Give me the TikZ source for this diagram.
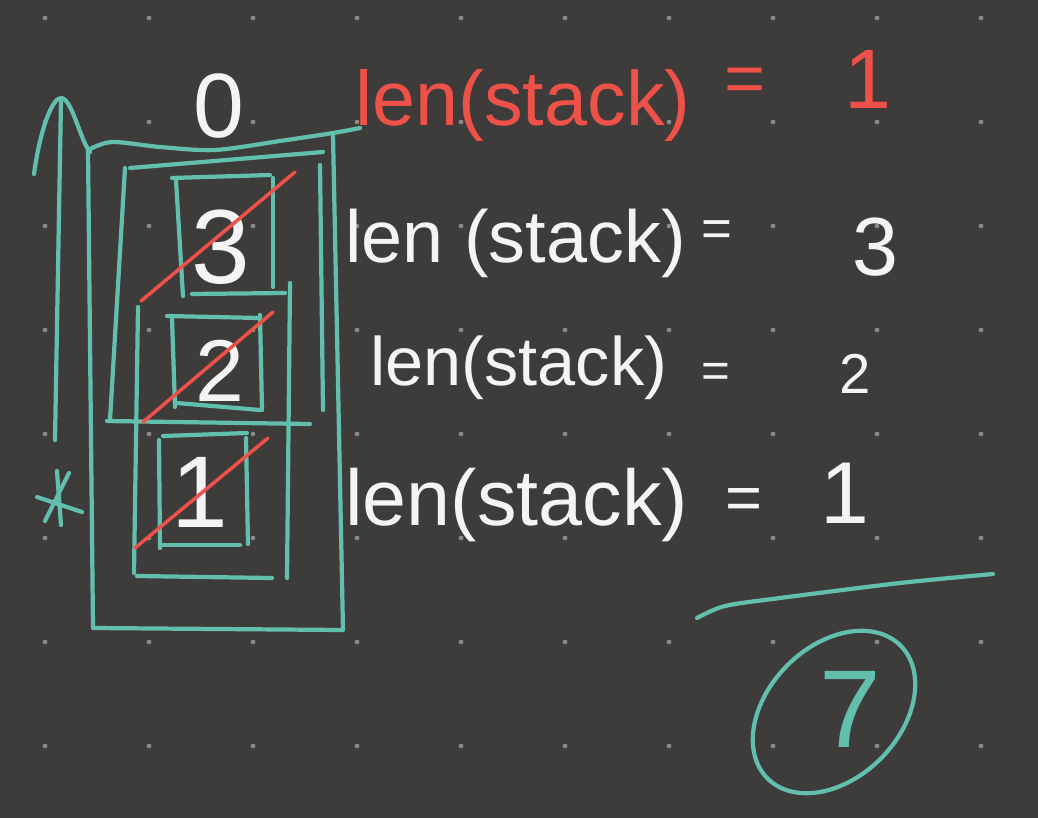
\documentclass[tikz,border=0pt]{standalone}
\usepackage{fontspec}
\setmainfont{Liberation Sans}
\definecolor{board}{HTML}{3E3B3B}
\definecolor{tealpen}{HTML}{62BFAE}
\definecolor{redpen}{HTML}{EE5148}
\definecolor{chalk}{HTML}{F4F4F4}
\definecolor{dotgrey}{HTML}{8E8B8B}
\newcommand{\penfont}[1]{\fontsize{#1}{#1}\selectfont}
\begin{document}
\begin{tikzpicture}[
            x=0.02cm, y=-0.02cm,
            pen/.style={draw=tealpen, line width=2.4pt, line cap=round, line join=round},
            strike/.style={draw=redpen, line width=2pt, line cap=round},
            word/.style={inner sep=0pt, anchor=base west},
            digit/.style={inner sep=0pt, anchor=base}
        ]
        \fill[board] (0,0) rectangle (1038,818);
        \useasboundingbox (0,0) rectangle (1038,818);
        \foreach \gx in {45,149,...,981}
            \foreach \gy in {18,122,...,746}
                \fill[dotgrey] (\gx,\gy) circle [radius=1.3pt];

        \draw[pen] (55,440) -- (61,100);
        \draw[pen] (34,174) .. controls (40,130) and (52,98) .. (61,98)
            .. controls (72,98) and (80,140) .. (90,152);
        \draw[pen] plot[smooth] coordinates {(88,150) (112,142) (160,147) (215,150) (280,141) (333,133) (360,128)};
        \draw[pen] (88,150) -- (93,628) -- (343,630) -- (333,135);

        \draw[pen] (130,168) -- (323,152);
        \draw[pen] (125,168) -- (110,420);
        \draw[pen] (320,165) -- (323,410);
        \draw[pen] (107,421) -- (310,424);

        \draw[pen] (172,178) -- (270,175);
        \draw[pen] (176,180) -- (183,296);
        \draw[pen] (273,178) -- (273,287);
        \draw[pen] (192,294) -- (285,293);

        \draw[pen] (138,307) -- (134,573);
        \draw[pen] (290,283) -- (287,578);
        \draw[pen] (137,576) -- (272,578);

        \draw[pen] (167,316) -- (260,318);
        \draw[pen] (172,318) -- (175,407);
        \draw[pen] (260,315) -- (262,410);
        \draw[pen] (177,403) -- (260,410);

        \draw[pen] (163,436) -- (247,433);
        \draw[pen] (159,440) -- (160,548);
        \draw[pen] (246,438) -- (248,544);
        \draw[pen] (163,545) -- (240,545);

        \draw[pen] (37,497) -- (82,512);
        \draw[pen] (57,471) -- (61,525);
        \draw[pen] (45,521) -- (69,473);

        \node[digit, text=chalk, font=\penfont{52}] (top) at (219,137) {0};
        \node[digit, text=chalk, font=\penfont{60}] (three) at (221,283) {3};
        \node[digit, text=chalk, font=\penfont{50}] (two) at (220,401) {2};
        \node[digit, text=chalk, font=\penfont{58}] (one) at (200,527) {1};

        \draw[strike] (141,301) -- (295,172);
        \draw[strike] (143,422) -- (273,312);
        \draw[strike] (135,548) -- (268,438);

        \node[word, text=redpen, font=\penfont{44}] (lenA) at (355,125) {len(stack)};
        \node[digit, text=redpen, font=\penfont{40}] (eqA) at (745,102) {=};
        \node[digit, text=redpen, font=\penfont{48}] (valA) at (868,108) {1};

        \node[word, text=chalk, font=\penfont{42}] (lenB) at (345,262) {len (stack)};
        \node[digit, text=chalk, font=\penfont{30}] (eqB) at (717,246) {=};
        \node[digit, text=chalk, font=\penfont{47}] (valB) at (875,275) {3};

        \node[word, text=chalk, font=\penfont{39}] (lenC) at (370,385) {len(stack)};
        \node[digit, text=chalk, font=\penfont{28}] (eqC) at (716,387) {=};
        \node[digit, text=chalk, font=\penfont{32}] (valC) at (855,393) {2};

        \node[word, text=chalk, font=\penfont{45}] (lenD) at (345,525) {len(stack)};
        \node[digit, text=chalk, font=\penfont{36}] (eqD) at (744,519) {=};
        \node[digit, text=chalk, font=\penfont{50}] (valD) at (845,523) {1};

        \draw[pen] plot[smooth] coordinates {(697,618) (725,606) (780,598) (900,583) (993,574)};
        \draw[pen, rotate around={45:(834,712)}] (834,712) ellipse [x radius=94, y radius=66];
        \node[digit, text=tealpen, font=\penfont{63}] (total) at (850,747) {7};
    \end{tikzpicture}
\end{document}
